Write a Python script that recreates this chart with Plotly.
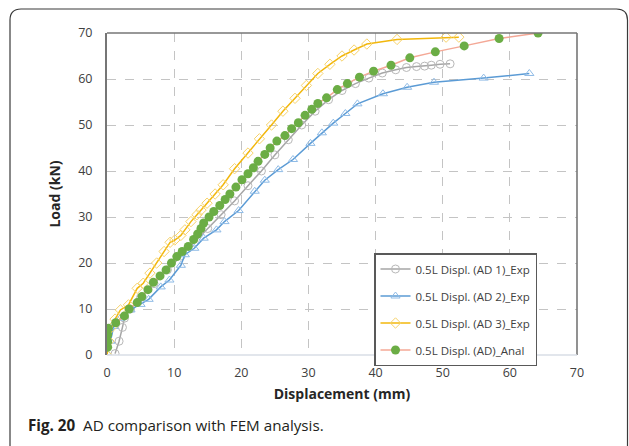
import plotly.graph_objects as go

# Load-displacement data (displacement in mm, load in kN)
disp_ad1 = [1.2, 1.8, 2.3, 2.6, 3.5, 5.0, 7.0, 9.0, 11.0, 13.0, 15.0, 17.0, 19.0, 21.0,
            23.0, 25.0, 27.0, 29.0, 31.0, 33.0, 35.0, 37.0, 39.0, 41.0, 43.0, 44.6,
            46.1, 47.3, 48.3, 49.6, 51.1]
load_ad1 = [0.3, 3.0, 6.0, 8.0, 10.0, 12.5, 15.5, 18.5, 21.5, 24.5, 27.5, 30.5, 33.5, 36.8,
            40.0, 43.5, 46.8, 50.0, 53.0, 55.5, 57.5, 59.0, 60.2, 61.3, 62.0, 62.5,
            62.7, 62.8, 63.0, 63.2, 63.3]

disp_ad2 = [0.0, 0.5, 1.0, 2.0, 3.5, 5.0, 6.2, 8.0, 9.3, 11.0, 11.6, 13.0, 14.4, 16.3,
            17.5, 19.6, 22.0, 23.5, 25.5, 27.7, 30.3, 32.0, 33.7, 35.5, 37.3, 41.1,
            44.7, 48.7, 56.1, 62.9]
load_ad2 = [0.4, 3.0, 6.2, 8.0, 9.8, 11.0, 12.1, 14.8, 16.3, 19.5, 21.8, 23.2, 25.4, 27.2,
            29.0, 31.4, 35.6, 38.0, 40.3, 42.5, 46.0, 48.3, 50.4, 52.5, 54.6, 56.8,
            58.2, 59.3, 60.2, 61.2]

disp_ad3 = [0.0, 0.3, 0.7, 1.2, 2.0, 3.2, 4.5, 5.4, 6.4, 7.4, 8.5, 9.4, 10.1, 11.0, 11.6,
            12.5, 13.4, 14.0, 14.9, 16.1, 17.3, 19.0, 21.0, 22.7, 24.5, 26.2, 28.0,
            29.7, 31.4, 33.2, 35.0, 36.8, 38.7, 43.2, 50.5, 52.4]
load_ad3 = [0.0, 3.0, 6.0, 7.8, 9.8, 10.9, 14.5, 15.6, 17.8, 20.0, 22.5, 24.5, 25.0, 26.0,
            27.2, 29.0, 30.5, 31.5, 33.0, 35.0, 37.0, 40.5, 43.9, 47.0, 50.0, 53.0,
            55.8, 58.6, 61.2, 63.2, 65.0, 66.3, 67.6, 68.6, 69.1, 69.1]

disp_anal = [0.1, 0.1, 0.1, 0.2, 1.3, 2.6, 3.3, 4.5, 5.2, 6.1, 6.9, 7.9, 8.8, 9.6, 10.4,
             11.2, 12.1, 12.9, 13.5, 14.0, 14.4, 15.2, 15.9, 16.8, 17.6, 18.3, 19.2,
             20.1, 21.0, 21.8, 22.5, 23.5, 24.3, 25.3, 26.5, 27.5, 28.5, 29.5, 30.5,
             31.4, 32.7, 34.3, 35.8, 37.6, 39.7, 42.3, 45.1, 48.9, 53.2, 58.4, 64.2]
load_anal = [1.7, 2.9, 4.4, 5.8, 7.0, 8.5, 10.0, 11.4, 12.7, 14.2, 15.8, 17.2, 18.5, 20.0,
             21.4, 22.5, 23.6, 25.1, 26.3, 27.5, 28.7, 30.0, 31.2, 32.5, 33.8, 35.0,
             36.5, 38.1, 39.4, 40.7, 42.1, 43.6, 45.0, 46.5, 47.7, 49.2, 50.5, 52.1,
             53.4, 54.7, 55.9, 57.7, 59.0, 60.4, 61.7, 63.0, 64.6, 65.9, 67.2, 68.8, 70.0]

series_names = ["0.5L Displ. (AD 1)_Exp", "0.5L Displ. (AD 2)_Exp",
                "0.5L Displ. (AD 3)_Exp", "0.5L Displ. (AD)_Anal"]
x_ticks = [0, 10, 20, 30, 40, 50, 60, 70]
y_ticks = [0, 10, 20, 30, 40, 50, 60, 70]

W, H = 629, 446
L, R, T, B = 107, 52, 33, 91
pw, ph = W - L - R, H - T - B

fig = go.Figure()

fig.add_trace(go.Scatter(
    x=disp_ad1, y=load_ad1, name=series_names[0], mode="lines+markers",
    legendgroup="g1",
    line=dict(color="#a6a6a6", width=1.5),
    marker=dict(symbol="circle-open", size=8, color="#b8b8b8", line=dict(width=1))))
fig.add_trace(go.Scatter(
    x=disp_ad2, y=load_ad2, name=series_names[1], mode="lines+markers",
    legendgroup="g2",
    line=dict(color="#5b9bd5", width=1.5),
    marker=dict(symbol="triangle-up-open", size=8, color="#8fbbe6", line=dict(width=1))))
fig.add_trace(go.Scatter(
    x=disp_ad3, y=load_ad3, name=series_names[2], mode="lines+markers",
    legendgroup="g3",
    line=dict(color="#f2b70c", width=1.5),
    marker=dict(symbol="diamond-open", size=8, color="#f7d36b", line=dict(width=1))))
fig.add_trace(go.Scatter(
    x=disp_anal, y=load_anal, name=series_names[3], mode="lines+markers",
    legendgroup="g4",
    line=dict(color="#f4a896", width=1.5),
    marker=dict(symbol="circle", size=9, color="#6bad45")))

# paper-coordinate helpers for pixel positions
def px(xp):
    return (xp - L) / pw

def py(yp):
    return (H - B - yp) / ph

shapes = []
# rounded card border
x0, x1, y0, y1 = px(10), px(627.5), py(9), py(470)
rx, ry = 11 / pw, 11 / ph
card = (f"M {x0} {y0 - ry} Q {x0} {y0} {x0 + rx} {y0} L {x1 - rx} {y0} "
        f"Q {x1} {y0} {x1} {y0 - ry} L {x1} {y1 + ry} Q {x1} {y1} {x1 - rx} {y1} "
        f"L {x0 + rx} {y1} Q {x0} {y1} {x0} {y1 + ry} Z")
shapes.append(dict(type="path", path=card, xref="paper", yref="paper",
                   line=dict(color="#3a3a3a", width=1.2), layer="below"))
# plot frame: top, right, light bottom
shapes.append(dict(type="line", xref="paper", yref="paper", x0=0, x1=1, y0=1, y1=1,
                   line=dict(color="#767676", width=1.6)))
shapes.append(dict(type="line", xref="paper", yref="paper", x0=1, x1=1, y0=0, y1=1,
                   line=dict(color="#767676", width=1.6)))
shapes.append(dict(type="line", xref="paper", yref="paper", x0=0, x1=1, y0=0, y1=0,
                   line=dict(color="#d9dee6", width=1.5)))

tick_font = dict(family="Open Sans", size=12.5, color="#404040")

fig.update_layout(
    width=W, height=H,
    margin=dict(l=L, r=R, t=T, b=B, pad=0),
    paper_bgcolor="white", plot_bgcolor="white",
    showlegend=True,
    legend=dict(
        x=px(374), y=py(253), xanchor="left", yanchor="top",
        bgcolor="white", bordercolor="#595959", borderwidth=1.5,
        font=dict(family="Open Sans", size=11.5, color="#404040"),
        itemwidth=30, tracegroupgap=8,
    ),
    xaxis=dict(
        range=[0, 70], tickvals=x_ticks, ticktext=[str(v) for v in x_ticks],
        showgrid=True, gridcolor="#c4c4c4", griddash="dash", gridwidth=1.3,
        zeroline=False, showline=False, ticks="", ticklabelstandoff=8,
        tickfont=tick_font,
        title=dict(text="<b>Displacement (mm)</b>", standoff=9,
                   font=dict(family="Open Sans", size=14, color="#262626")),
    ),
    yaxis=dict(
        range=[0, 70], tickvals=y_ticks, ticktext=[str(v) for v in y_ticks],
        showgrid=True, gridcolor="#c4c4c4", griddash="dash", gridwidth=1.3,
        zeroline=False, showline=True, linecolor="#767676", linewidth=2,
        ticks="", ticklabelstandoff=10, tickfont=tick_font,
        title=dict(text="<b>Load (kN)</b>", standoff=14,
                   font=dict(family="Open Sans", size=14, color="#262626")),
    ),
    shapes=shapes,
    annotations=[dict(
        text="<b>Fig. 20</b>  AD comparison with FEM analysis.",
        xref="paper", yref="paper", x=px(26), y=py(425),
        xanchor="left", yanchor="middle", showarrow=False,
        font=dict(family="Open Sans", size=15.2, color="#231f20"))],
)

fig.write_html("out.html")
